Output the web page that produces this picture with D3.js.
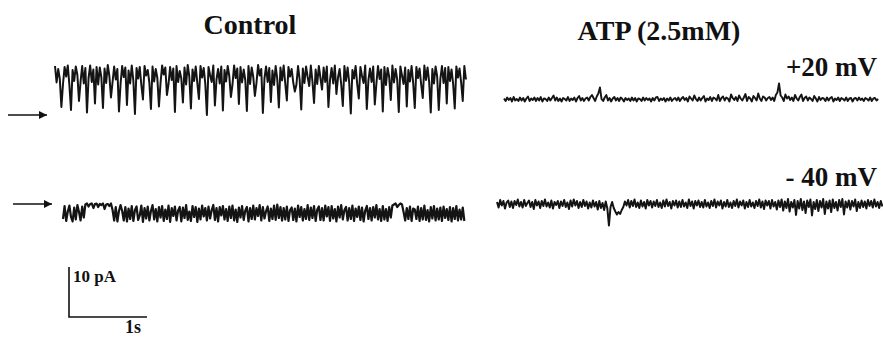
<!DOCTYPE html>
<html>
<head>
<meta charset="utf-8">
<script src="https://cdn.jsdelivr.net/npm/d3@7"></script>
<style>
  html, body { margin: 0; padding: 0; background: #fff; }
  svg { display: block; }
  text { font-family: "Liberation Serif", "Times New Roman", serif; font-weight: bold; fill: #111; }
</style>
</head>
<body>
<div id="chart"></div>
<script>
const dt = 0.0205;

const columnTitles = ["Control", "ATP (2.5mM)"];
const potentials = ["+20 mV", "- 40 mV"];
const scaleBarCurrent = 10; // pA
const scaleBarTime = 1;     // s

// Control, +20 mV (pA, relative to closed level)
const controlPos = [
  1.2,-2.1,0.6,-1.4,-7.0,-2.4,1.0,-0.9,1.3,-2.6,
  -7.6,0.4,-1.8,1.1,-0.6,-5.8,-1.9,1.2,-2.3,0.8,
  -8.1,-1.2,1.3,-2.0,0.5,-6.3,1.0,-2.5,0.9,-1.1,
  -7.2,0.7,-2.2,1.4,-0.8,-5.1,-2.0,1.1,-1.5,0.6,
  -7.9,-2.4,1.2,-1.0,0.9,-6.6,0.3,-2.3,1.3,-1.7,
  -8.4,0.8,-1.3,1.0,-2.6,-5.5,1.2,-0.7,0.4,-2.1,
  -7.4,1.1,-1.9,0.6,-1.2,-6.9,-2.2,1.3,-0.5,0.9,
  -4.6,-2.4,1.0,-1.6,0.7,-8.0,1.2,-2.0,0.2,-1.3,
  -6.1,0.9,-2.5,1.4,-0.9,-7.3,0.5,-1.8,1.1,-2.2,
  -5.4,1.2,-1.1,0.8,-2.4,-8.6,1.0,-0.6,-2.0,1.3,
  -6.7,-1.5,0.6,-2.3,1.1,-7.7,0.4,-1.9,1.2,-0.8,
  -5.0,-2.5,1.3,-1.2,0.7,-6.4,1.0,-2.1,0.5,-1.6,
  -7.8,1.2,-2.4,0.9,-1.0,-4.8,-2.2,1.4,-0.7,0.6,
  -8.2,-1.3,1.1,-2.0,0.8,-6.0,0.3,-2.6,1.2,-1.4,
  -7.1,0.9,-1.7,1.3,-2.3,-5.7,1.0,-0.9,0.6,-2.1,
  -3.9,-2.5,1.2,-1.5,-7.5,0.7,-2.2,1.1,-1.0,-2.8,
  1.3,-1.9,-6.2,0.5,-2.4,1.2,-1.2,-3.5,0.9,-2.0,
  1.1,-7.0,-1.6,0.8,-2.3,1.3,-4.4,-1.1,0.6,-2.5,
  -6.8,1.2,-1.8,0.9,-2.1,-8.3,0.4,-1.3,1.2,-2.4,
  -5.3,1.0,-0.8,-2.2,1.3,-7.4,-1.7,0.7,-2.0,1.1,
  -6.5,-2.3,1.2,-1.4,0.5,-7.9,1.0,-2.6,0.8,-1.0,
  -5.6,1.3,-2.1,0.6,-1.5,-8.0,1.1,-0.7,-2.4,0.9,
  -6.9,0.4,-1.9,1.2,-2.2,-7.2,1.0,-1.2,0.7,-2.5,
  -5.2,1.3,-1.6,0.9,-2.0,-8.1,0.6,-2.3,1.1,-0.9,
  -7.6,-1.4,1.2,-2.2,0.8,-6.3,1.0,-1.8,0.5,-2.4,
  -7.3,1.1,-1.1,0.7,-2.1,-5.8,1.2,-1.5
];

// ATP, +20 mV
const atpPos = [
  0.2,-0.3,0.4,-0.1,0.3,-0.4,0.5,-0.2,0.1,-0.3,
  0.4,-0.2,0.3,-0.4,0.2,0.6,-0.3,0.2,-0.1,0.4,
  -0.3,0.3,-0.2,0.5,-0.4,0.2,0.1,-0.3,0.4,-0.2,
  0.3,0.8,-0.2,0.4,-0.3,0.2,-0.4,0.3,0.1,-0.2,
  0.5,-0.3,0.2,-0.1,0.4,-0.4,0.3,0.7,-0.2,0.3,
  -0.3,0.2,0.4,-0.2,0.5,0.9,0.3,-0.3,0.6,1.2,
  2.4,0.1,-0.3,0.4,0.9,-0.2,0.3,-0.4,0.2,0.5,
  -0.2,0.3,-0.3,0.4,0.1,-0.4,0.3,-0.1,0.2,-0.3,
  0.4,-0.2,0.3,-0.4,0.2,0.1,-0.3,0.4,-0.2,0.3,
  -0.1,0.2,-0.4,0.3,-0.2,0.4,0.5,-0.3,0.2,-0.1,
  0.3,-0.4,0.2,-0.2,0.4,-0.3,0.1,0.3,-0.2,0.4,
  -0.3,0.2,0.5,-0.1,0.3,-0.4,0.6,0.2,-0.2,0.8,
  0.1,-0.3,0.4,-0.2,0.3,0.7,-0.4,0.2,-0.1,0.5,
  -0.3,0.4,0.2,-0.2,0.9,-0.3,0.3,0.6,-0.2,0.4,
  0.2,-0.4,1.0,0.3,-0.1,0.5,-0.3,0.8,0.2,-0.2,
  0.4,1.1,-0.3,0.5,0.2,-0.4,0.7,0.3,-0.2,1.2,
  0.2,-0.3,0.6,0.4,-0.2,0.3,0.5,-0.1,0.4,-0.3,
  0.9,1.4,3.2,0.8,0.4,-0.3,1.0,0.2,0.6,-0.1,
  0.4,-0.3,0.9,0.2,-0.2,0.5,1.0,-0.3,0.3,0.6,
  -0.2,0.4,0.1,-0.3,0.7,0.2,-0.4,0.5,-0.1,0.3,
  0.2,-0.3,0.4,-0.2,0.3,0.5,-0.4,0.2,-0.1,0.4,
  -0.3,0.3,0.1,-0.2,0.4,-0.3,0.2,0.3,-0.4,0.2,
  0.3,-0.2,0.4,-0.1,0.2,-0.3,0.3,0.1,-0.2,0.4,
  -0.3,0.2,0.3,-0.2,0.1
];

// Control, -40 mV
const controlNeg = [
  -1.2,1.4,-1.6,0.3,1.5,-0.8,-1.7,1.1,-1.3,1.6,
  0.2,-1.5,1.3,-0.9,1.7,1.9,1.3,1.8,1.9,1.0,
  1.8,1.9,1.2,1.8,1.6,1.9,0.8,1.7,1.8,1.4,
  1.9,0.6,-1.5,1.2,-1.7,0.4,1.6,0.4,-1.5,1.2,
  -1.7,0.9,-1.2,1.4,-1.6,0.6,1.3,-1.4,-0.5,1.5,
  -1.8,1.0,-1.1,1.3,-1.5,0.4,1.6,-1.3,0.8,-1.7,
  1.2,-0.9,1.4,-1.6,0.7,-1.2,1.5,-1.8,1.0,-0.6,
  1.3,-1.5,0.5,1.2,-1.7,1.1,-1.0,1.6,-1.4,0.3,
  -1.6,1.4,-0.8,1.2,-1.8,0.9,-1.3,1.5,-0.7,1.0,
  -1.5,1.3,-1.1,0.6,1.6,-1.4,1.0,-1.7,1.2,-0.5,
  1.4,-1.3,0.8,-1.6,1.3,-1.0,1.5,-1.5,0.7,-1.8,
  1.1,-0.9,1.4,-1.4,0.5,1.2,-1.7,1.0,-1.2,1.5,
  -1.3,1.0,-0.6,1.6,-1.5,1.2,-1.1,0.4,1.3,-1.6,
  0.9,-1.2,1.5,-1.4,1.7,-1.0,1.2,-1.5,1.0,-1.3,
  1.3,-1.6,0.6,1.1,-1.4,0.9,-1.7,1.5,-0.8,1.2,
  -1.5,0.8,-1.2,1.6,-1.4,1.1,-1.0,1.4,-1.6,0.7,
  1.3,-1.4,1.0,-1.5,1.5,-0.7,1.2,-1.6,1.4,-1.1,
  0.8,-1.7,1.3,-0.9,1.6,-1.3,0.6,1.2,-1.5,1.0,
  -1.2,1.5,-1.6,0.9,-0.8,1.3,-1.4,1.1,-1.7,0.5,
  1.4,-1.2,1.0,-1.5,1.2,-0.9,1.6,-1.3,0.8,-1.6,
  1.4,-1.3,0.8,-1.6,1.2,-0.9,1.5,1.7,1.9,1.2,
  1.6,1.9,1.7,0.2,-1.5,1.0,-1.2,1.3,-1.6,0.9,
  0.7,-1.2,1.3,-1.6,1.0,-1.3,1.5,-1.4,0.6,-1.7,
  1.2,-1.1,1.4,-1.5,0.9,-1.3,1.1,-1.6,1.3,-1.0,
  0.8,-1.4,1.2,-1.7,1.0,-1.2,1.4,-1.5,0.7,-1.3,
  1.1,-1.6
];

// ATP, -40 mV
const atpNeg = [
  0.4,-0.7,0.8,-0.3,0.6,-0.9,0.3,0.7,-0.6,0.5,
  -0.8,0.6,-0.2,0.9,-0.5,0.4,-0.7,0.8,-0.4,0.2,
  0.7,-0.6,0.4,-1.0,0.8,-0.3,0.5,-0.8,0.6,-0.4,
  0.9,-0.5,0.3,-0.7,0.7,-0.9,0.4,-0.2,0.6,-0.8,
  0.5,-0.4,0.8,-0.6,0.3,-1.0,0.7,-0.5,0.9,-0.3,
  0.6,-0.8,0.4,-0.6,0.8,-0.4,0.5,-0.9,0.3,-0.7,
  0.7,-0.5,0.4,-1.1,0.6,-0.8,0.2,-1.2,0.5,-0.9,
  -4.3,-0.6,0.4,-0.8,-1.5,-2.1,-1.6,-2.0,-1.2,-0.6,
  0.5,-0.3,0.8,-0.7,0.6,-0.4,0.9,-0.6,0.3,-0.8,
  0.7,-0.5,0.4,-0.9,0.8,-0.3,0.6,-0.7,0.5,-0.4,
  0.8,-0.6,0.3,-0.8,0.7,-0.5,0.9,-0.4,0.4,-0.9,
  0.6,-0.3,0.7,-0.7,0.5,-0.6,0.8,-0.5,0.3,-0.8,
  0.9,-0.4,0.5,-0.9,0.6,-0.3,0.7,-0.6,0.4,-0.7,
  0.8,-0.5,0.3,-0.8,0.6,-0.4,0.9,-0.7,0.5,-0.3,
  0.7,-0.9,0.4,-0.5,0.8,-0.6,0.3,-0.8,0.6,-0.4,
  0.9,-0.7,0.5,-0.3,0.7,-0.9,0.4,-0.6,0.8,-0.5,
  0.3,-0.8,0.6,-0.4,0.9,-0.7,0.5,-1.0,0.7,-0.3,
  0.6,-0.9,0.8,-0.5,0.4,-1.1,0.7,-0.6,0.9,-1.3,
  0.5,-0.8,1.0,-1.5,0.4,-0.7,0.8,-2.2,0.6,-0.9,
  1.0,-1.2,0.5,-1.8,0.7,-0.6,0.9,-2.3,0.4,-1.0,
  0.8,-1.4,0.6,-0.7,1.0,-2.0,0.5,-0.9,0.7,-1.6,
  0.9,-0.8,0.4,-1.3,0.8,-0.6,1.0,-2.1,0.5,-0.7,
  0.7,-1.1,0.6,-0.5,0.9,-1.4,0.4,-0.8,0.7,-0.6,
  0.5,-0.9,0.8,-0.4,0.6,-0.7,0.9,-0.5,0.4,-0.8,
  0.6,-0.5
];

const width = 883, height = 338;

const svg = d3.select("#chart").append("svg")
  .attr("width", width).attr("height", height)
  .attr("viewBox", `0 0 ${width} ${height}`);

// shared scales: 1 s = 78 px, 10 pA = 50 px (matches the scale bar)
const x = d3.scaleLinear().domain([0, 1]).range([0, 78]);
const y = d3.scaleLinear().domain([0, 10]).range([0, -50]);

const traces = [
  { values: controlPos, left: 55, base: 72, sw: 2.0 },
  { values: atpPos, left: 504, base: 99.5, sw: 1.9 },
  { values: controlNeg, left: 63, base: 213, sw: 2.2 },
  { values: atpNeg, left: 497, base: 204, sw: 2.0 }
];

const line = d3.line()
  .x((d, i) => x(i * dt))
  .y((d) => y(d));

traces.forEach((t) => {
  svg.append("g")
    .attr("transform", `translate(${t.left},${t.base})`)
    .append("path")
    .datum(t.values)
    .attr("d", line)
    .attr("fill", "none")
    .attr("stroke", "#141414")
    .attr("stroke-width", t.sw)
    .attr("stroke-linejoin", "round");
});

// column titles
svg.selectAll(".title")
  .data(columnTitles)
  .enter()
  .append("text")
  .attr("class", "title")
  .attr("x", (d, i) => [250, 659][i])
  .attr("y", (d, i) => [34, 40][i])
  .attr("text-anchor", "middle")
  .attr("font-size", 28)
  .text((d) => d);

// holding potentials
svg.selectAll(".pot")
  .data(potentials)
  .enter()
  .append("text")
  .attr("class", "pot")
  .attr("x", 877)
  .attr("y", (d, i) => [76, 186][i])
  .attr("text-anchor", "end")
  .attr("font-size", 27)
  .text((d) => d);

// closed-level arrows
svg.append("defs").append("marker")
  .attr("id", "head")
  .attr("viewBox", "0 0 10 10")
  .attr("refX", 10).attr("refY", 5)
  .attr("markerWidth", 10).attr("markerHeight", 8)
  .attr("markerUnits", "userSpaceOnUse")
  .attr("orient", "auto")
  .append("path")
  .attr("d", "M0,0L10,5L0,10Z")
  .attr("fill", "#111");

[[8, 47, 115], [13, 52, 204]].forEach(([x1, x2, yy]) => {
  svg.append("line")
    .attr("x1", x1).attr("x2", x2).attr("y1", yy).attr("y2", yy)
    .attr("stroke", "#111").attr("stroke-width", 1.3)
    .attr("marker-end", "url(#head)");
});

// scale bar
const bar = svg.append("g").attr("transform", "translate(69,317)");
bar.append("path")
  .attr("d", `M0,${y(scaleBarCurrent)}V0H${x(scaleBarTime)}`)
  .attr("fill", "none")
  .attr("stroke", "#111")
  .attr("stroke-width", 1.6);
bar.append("text")
  .attr("x", 4).attr("y", y(scaleBarCurrent) + 15)
  .attr("font-size", 17)
  .text(`${scaleBarCurrent} pA`);
bar.append("text")
  .attr("x", x(scaleBarTime) - 22).attr("y", 16)
  .attr("font-size", 18)
  .text(`${scaleBarTime}s`);
</script>
</body>
</html>
